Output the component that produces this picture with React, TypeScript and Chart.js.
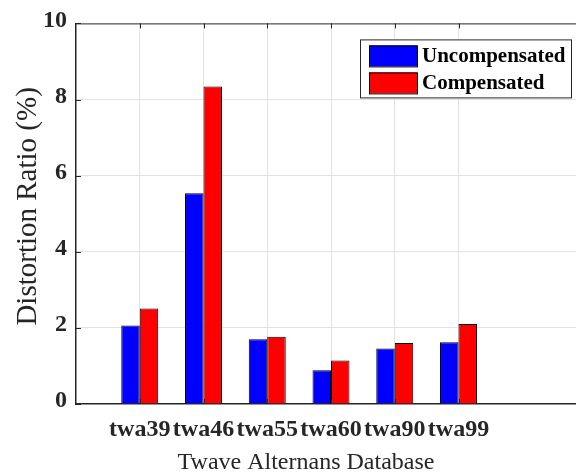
import React, { useEffect, useRef } from 'react';
import { Chart, registerables } from 'chart.js';

Chart.register(...registerables);

// Records in the database and their distortion ratios (%)
const categories = ['twa39', 'twa46', 'twa55', 'twa60', 'twa90', 'twa99'];
const uncompensated = [2.06, 5.54, 1.7, 0.89, 1.46, 1.62];
const compensated = [2.51, 8.34, 1.77, 1.14, 1.6, 2.1];
const yTicks = [0, 2, 4, 6, 8, 10];
const seriesNames = ['Uncompensated', 'Compensated'];
const xTitle = 'Twave Alternans Database';
const yTitle = 'Distortion Ratio (%)';

const AXIS_COLOR = '#262626';
const GRID_COLOR = '#e2e2e2';
const FONT = '"Liberation Serif", "Times New Roman", serif';

// Box outline, inward tick marks, axis titles and the boxed legend
const framePlugin = {
  id: 'frameAndLegend',
  afterDatasetsDraw(chart: any) {
    const { ctx, chartArea: a, scales } = chart;
    ctx.save();
    ctx.strokeStyle = AXIS_COLOR;
    ctx.lineWidth = 1;
    ctx.beginPath();
    ctx.moveTo(a.left, a.top + 0.5);
    ctx.lineTo(a.right, a.top + 0.5);
    categories.forEach((_, i) => {
      const px = Math.round(scales.x.getPixelForValue(i + 1)) + 0.5;
      ctx.moveTo(px, a.bottom);
      ctx.lineTo(px, a.bottom - 5);
      ctx.moveTo(px, a.top);
      ctx.lineTo(px, a.top + 5);
    });
    yTicks.forEach((v) => {
      const py = Math.round(scales.y.getPixelForValue(v)) + 0.5;
      ctx.moveTo(a.left, py);
      ctx.lineTo(a.left + 5, py);
    });
    ctx.stroke();

    // axis titles
    ctx.fillStyle = AXIS_COLOR;
    ctx.textAlign = 'center';
    ctx.textBaseline = 'alphabetic';
    ctx.font = `24px ${FONT}`;
    ctx.fillText(xTitle, a.left + 230, a.bottom + 65);
    ctx.save();
    ctx.translate(a.left - 40, a.top + 183);
    ctx.rotate(-Math.PI / 2);
    ctx.font = `29px ${FONT}`;
    ctx.fillText(yTitle, 0, 0);
    ctx.restore();

    // legend
    const lx = a.left + 284;
    const ly = a.top + 16;
    const lw = 211;
    const lh = 58;
    ctx.fillStyle = '#ffffff';
    ctx.fillRect(lx, ly, lw, lh);
    ctx.strokeStyle = AXIS_COLOR;
    ctx.strokeRect(lx + 0.5, ly + 0.5, lw, lh);
    ctx.font = `bold 21px ${FONT}`;
    ctx.textBaseline = 'middle';
    ctx.textAlign = 'left';
    chart.data.datasets.forEach((ds: any, i: number) => {
      const sy = ly + 6 + i * 27;
      ctx.fillStyle = ds.backgroundColor;
      ctx.fillRect(lx + 9, sy, 48, 21);
      ctx.strokeStyle = '#000000';
      ctx.strokeRect(lx + 9.5, sy + 0.5, 48, 21);
      ctx.fillStyle = '#000000';
      ctx.fillText(ds.label, lx + 62, sy + 11);
    });
    ctx.restore();
  },
};

export default function App() {
  const canvasRef = useRef<HTMLCanvasElement>(null);

  useEffect(() => {
    const canvas = canvasRef.current;
    if (!canvas) return;
    const chart = new Chart(canvas, {
      type: 'bar',
      data: {
        datasets: [
          {
            label: seriesNames[0],
            data: uncompensated.map((y, i) => ({ x: i + 1, y })),
            backgroundColor: '#0000ff',
            borderColor: '#000000',
            borderWidth: 1,
            categoryPercentage: 0.58,
            barPercentage: 1,
          },
          {
            label: seriesNames[1],
            data: compensated.map((y, i) => ({ x: i + 1, y })),
            backgroundColor: '#ff0000',
            borderColor: '#000000',
            borderWidth: 1,
            categoryPercentage: 0.58,
            barPercentage: 1,
          },
        ],
      },
      options: {
        responsive: false,
        animation: false,
        layout: { padding: { left: 0, top: 16, right: 14, bottom: 0 } },
        plugins: {
          legend: { display: false },
          tooltip: { enabled: false },
        },
        scales: {
          x: {
            type: 'linear',
            min: 0,
            max: 8,
            offset: false,
            afterFit: (s: any) => {
              s.height = 68;
            },
            ticks: {
              stepSize: 1,
              autoSkip: false,
              maxRotation: 0,
              padding: 11,
              color: AXIS_COLOR,
              font: { family: FONT, size: 24, weight: 'bold' },
              callback: (v: any) => categories[Number(v) - 1] ?? '',
            },
            grid: {
              offset: false,
              drawTicks: false,
              color: (c: any) =>
                c.tick && c.tick.value >= 1 && c.tick.value <= categories.length
                  ? GRID_COLOR
                  : 'rgba(0,0,0,0)',
            },
            border: { color: AXIS_COLOR, width: 1.5 },
          },
          y: {
            min: 0,
            max: 10,
            afterFit: (s: any) => {
              s.width = 76;
            },
            afterBuildTicks: (s: any) => {
              s.ticks = yTicks.map((v) => ({ value: v }));
            },
            ticks: {
              padding: 9,
              labelOffset: -3,
              color: AXIS_COLOR,
              font: { family: FONT, size: 24, weight: 'bold' },
            },
            grid: {
              drawTicks: false,
              color: (c: any) =>
                c.tick && c.tick.value > 0 && c.tick.value < 10 ? GRID_COLOR : 'rgba(0,0,0,0)',
            },
            border: { color: AXIS_COLOR, width: 1.5 },
          },
        },
      },
      plugins: [framePlugin],
    } as any);
    return () => chart.destroy();
  }, []);

  return (
    <div
      style={{
        position: 'fixed',
        left: 0,
        top: 0,
        width: 576,
        height: 472,
        overflow: 'hidden',
        background: '#ffffff',
      }}
    >
      <canvas ref={canvasRef} width={600} height={472} style={{ display: 'block' }} />
    </div>
  );
}
